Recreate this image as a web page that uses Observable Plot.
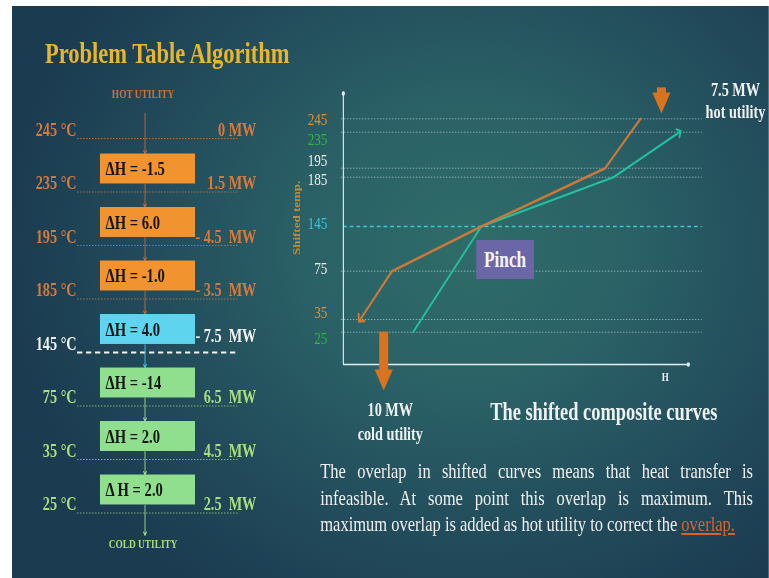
<!DOCTYPE html>
<html><head><meta charset="utf-8">
<script src="https://cdn.jsdelivr.net/npm/d3@7"></script>
<script src="https://cdn.jsdelivr.net/npm/@observablehq/plot@0.6"></script>
<style>
html,body{margin:0;padding:0;background:#fff;}
#page{position:relative;width:769px;height:578px;overflow:hidden;background:#fff;}
#slide{position:absolute;left:12px;top:6px;width:757px;height:572px;overflow:hidden;}
#stage{position:absolute;left:0;top:0;width:1009px;height:572px;transform:scaleX(0.75);transform-origin:0 0;
 background: radial-gradient(ellipse 620px 420px at 610px 240px, #2f6c69 0%, #2a6166 35%, #224b5b 70%, #1b3b50 100%);
 font-family:"Liberation Serif","Times New Roman",serif;}
.abs{position:absolute;}
#left{left:0;top:0;width:340px;height:572px;}
#right{left:0;top:0;width:1009px;height:572px;}
#left svg,#right svg{position:absolute;left:0;top:0;max-width:none !important;height:auto;}
#title{left:44px;top:32px;font-size:30px;line-height:30px;font-weight:bold;color:#e8b52e;white-space:nowrap;}
#pinch{left:619px;top:234px;width:77px;height:39px;background:#6b67a6;color:#f4f4f4;font-weight:bold;font-size:23px;line-height:39px;text-align:center;}
#caption{left:589px;top:391px;width:400px;text-align:center;font-size:24.5px;line-height:30px;font-weight:bold;color:#eef2f2;white-space:nowrap;}
#para{left:411px;top:452px;width:577px;font-size:22px;line-height:26.7px;color:#f0f0f0;text-align:justify;text-align-last:left;}
#para .hl{color:#d9632c;text-decoration:underline;}
</style>
</head><body>
<div id="page"><div id="slide"><div id="stage">
  <div id="title" class="abs">Problem Table Algorithm</div>
  <div id="left" class="abs"></div>
  <div id="right" class="abs"></div>
  <div id="pinch" class="abs">Pinch</div>
  <div id="caption" class="abs">The shifted composite curves</div>
  <div id="para" class="abs">The overlap in shifted curves means that heat transfer is infeasible. At some point this overlap is maximum. This maximum overlap is added as hot utility to correct the <span class="hl">overlap.</span></div>
</div></div></div>
<script>
// ---------- data: problem table cascade ----------
const levelTemps = [245, 235, 195, 185, 145, 75, 35, 25];
const cascadeMW = ["0 MW", "1.5 MW", "- 4.5  MW", "- 3.5  MW", "- 7.5  MW", "6.5  MW", "4.5  MW", "2.5  MW"];
const intervalDH = ["-1.5", "6.0", "-1.0", "4.0", "-14", "2.0", "2.0"];

// ---------- data: shifted composite curves ----------
const hotH = [86.1, 75.9, 40.0, 14.1, 4.9];
const hotT = [245, 195, 145, 75, 35];
const coldH = [20.2, 40.0, 78.3, 97.4];
const coldT = [25, 145, 185, 235];
const tickTemps = [245, 235, 195, 185, 145, 75, 35, 25];
const tickColors = ["#e0902c", "#2bbb3c", "#ececec", "#ececec", "#34c6dc", "#ececec", "#e0902c", "#2bbb3c"];
const hotUtility = "7.5 MW";
const coldUtility = "10 MW";
const pinchT = 145;

// ---------- layout (not data) ----------
const tickNudge = [1, 7, -8, 2, -3, -3, -7, 6];
const ORANGE = "#d8793a", WHITE = "#f2f2f2", GREEN = "#a9de7c";
const serif = "Liberation Serif";
const nb = s => s.replace(/ /g, "\u00a0");

// ---------- left: cascade diagram ----------
const levels = levelTemps.map((t, i) => ({i, t, q: cascadeMW[i], grp: i < 4 ? "hot" : i === 4 ? "pinch" : "cold"}));
const boxes = intervalDH.map((dh, i) => ({i, dh, grp: i < 3 ? "hot" : i === 3 ? "pinch" : "cold"}));
const boxFill = {hot: "#f1932f", pinch: "#5fd4ee", cold: "#8fdf8f"};
const textFill = {hot: ORANGE, pinch: WHITE, cold: GREEN};
const segs = [{a: -0.47, b: 0.29, c: "#c4683a"}];
for (let k = 1; k < boxes.length; k++) segs.push({a: k - 1 + 0.85, b: k + 0.29, c: k <= 3 ? "#c4683a" : k === 4 ? "#3cc6e6" : "#9fdc80"});
segs.push({a: boxes.length - 1 + 0.85, b: 7.42, c: "#9fdc80"});

try {
const left = Plot.plot({
  width: 340, height: 572,
  marginLeft: 86.7, marginRight: 38.7, marginTop: 0, marginBottom: 0,
  style: {background: "transparent", overflow: "visible"},
  x: {domain: [0, 1], range: [117.3, 244], axis: null},
  y: {domain: [0, 7], range: [132, 506.5], axis: null},
  marks: [
    Plot.ruleY(levels.filter(d => d.grp !== "pinch"), {y: "i", stroke: d => d.grp === "hot" ? "#c27444" : "#8fc27a", strokeWidth: 1, strokeDasharray: "2,2"}),
    Plot.ruleY(levels.filter(d => d.grp === "pinch"), {y: "i", stroke: "#f4f4f4", strokeWidth: 2.2, strokeDasharray: "7,5"}),
    Plot.arrow(segs, {x1: () => 0.47, x2: () => 0.47, y1: "a", y2: "b", stroke: "c", strokeWidth: 1.2, headLength: 5}),
    Plot.rect(boxes, {x1: () => 0, x2: () => 1, y1: d => d.i + 0.29, y2: d => d.i + 0.85, fill: d => boxFill[d.grp]}),
    Plot.text(boxes, {x: () => 0, y: d => d.i + 0.57, text: d => (d.i === boxes.length - 1 ? "Δ H = " : "ΔH = ") + d.dh,
      dx: 7, textAnchor: "start", fill: "#141414", fontSize: 19.5, fontWeight: "bold", fontFamily: serif}),
    Plot.text(levels, {y: "i", text: d => nb(d.t + " °C"), frameAnchor: "left", textAnchor: "end", dx: -1, dy: -9,
      fill: d => textFill[d.grp], fontSize: 19, fontWeight: "bold", fontFamily: serif}),
    Plot.text(levels.filter(d => d.grp !== "pinch"), {y: "i", text: d => nb(d.q), frameAnchor: "right", textAnchor: "end", dx: 24, dy: -9,
      fill: d => textFill[d.grp], fontSize: 19, fontWeight: "bold", fontFamily: serif}),
    Plot.text(levels.filter(d => d.grp === "pinch"), {y: "i", text: d => nb(d.q), frameAnchor: "right", textAnchor: "end", dx: 24, dy: -17,
      fill: WHITE, fontSize: 19, fontWeight: "bold", fontFamily: serif}),
    Plot.text(["HOT UTILITY"], {x: () => 0.45, y: () => -0.835, fill: "#d0703a", fontSize: 12.5, fontWeight: "bold", fontFamily: serif}),
    Plot.text(["COLD UTILITY"], {x: () => 0.45, y: () => 7.57, fill: GREEN, fontSize: 12.5, fontWeight: "bold", fontFamily: serif})
  ]
});
document.getElementById("left").appendChild(left);
} catch (e) { console.error("left", e); }

// ---------- right: shifted composite curves ----------
const hot = hotH.map((h, i) => ({h, t: hotT[i]}));
const cold = coldH.map((h, i) => ({h, t: coldT[i]}));
const arrowColor = "#d9731f";
// the slide's temperature axis is not to scale: a piecewise warp of the shifted temperatures
const tempWarp = d3.scaleLinear()
  .domain([0, 25, 35, 75, 145, 185, 195, 235, 245, 263])
  .range([358, 325.7, 313, 264.7, 220, 170.7, 161.7, 125.7, 112.3, 87]);
try {
const right = Plot.plot({
  width: 1009, height: 572, margin: 0,
  style: {background: "transparent", overflow: "visible"},
  x: {domain: [0, 100], range: [441.3, 901.3], axis: null},
  y: {transform: tempWarp, domain: [358, 87], range: [358, 87], axis: null},
  marks: [
    Plot.ruleY(tickTemps.filter(t => t !== pinchT), {y: d => d, x1: () => -0.6, x2: () => 104, stroke: "#dfe9e9", strokeOpacity: 0.6, strokeWidth: 1, strokeDasharray: "2,2"}),
    Plot.ruleY([pinchT], {y: d => d, x1: () => 0, x2: () => 104, stroke: "#3cc8d6", strokeWidth: 1.6, strokeDasharray: "5,4"}),
    Plot.ruleX([0], {x: d => d, y1: () => 0, y2: () => 263, stroke: "#e4eeee", strokeWidth: 1.5}),
    Plot.ruleY([0], {y: d => d, x1: () => 0, x2: () => 100, stroke: "#e4eeee", strokeWidth: 1.5}),
    Plot.dot([{h: 0, t: 263}, {h: 100, t: 0}], {x: "h", y: "t", r: 2.2, fill: "#e4eeee"}),
    Plot.line(cold, {x: "h", y: "t", stroke: "#22c1a0", strokeWidth: 2.2, markerEnd: "arrow"}),
    Plot.line(hot, {x: "h", y: "t", stroke: "#c9793a", strokeWidth: 2.6, markerEnd: "arrow"}),
    ...tickTemps.map((t, i) => Plot.text([t], {x: () => 0, y: d => d, text: d => String(d), dx: -21.3, dy: tickNudge[i],
      textAnchor: "end", fill: tickColors[i], fontSize: 17.5, fontFamily: serif})),
    Plot.text(["Shifted temp."], {x: () => -13.6, y: () => 152, rotate: -90, fill: "#c98a2a", fontSize: 13, fontWeight: "bold", fontFamily: serif}),
    Plot.text(["H"], {x: () => 93.3, y: () => 0, dy: 13, fill: "#eef2f2", fontSize: 12, fontWeight: "bold", fontFamily: serif}),
    Plot.ruleX([11.7], {x: d => d, y1: () => 25, y2: () => -8, stroke: arrowColor, strokeWidth: 12}),
    Plot.dot([11.7], {x: d => d, y: () => -9.3, symbol: "triangle", rotate: 180, r: 9, fill: arrowColor}),
    Plot.text([coldUtility + "\ncold utility"], {x: () => 13.6, y: () => -20.1, dy: 8, lineAnchor: "top", lineHeight: 1.27,
      fill: "#eef2f2", fontSize: 19, fontWeight: "bold", fontFamily: serif}),
    Plot.ruleX([92.2], {x: d => d, y1: () => 267, y2: () => 260, stroke: arrowColor, strokeWidth: 12}),
    Plot.dot([92.2], {x: d => d, y: () => 258.7, symbol: "triangle", rotate: 180, r: 9, fill: arrowColor}),
    Plot.text([hotUtility + "\nhot utility"], {x: () => 92.2, y: () => 258.7, dx: 98.7, lineHeight: 1.16,
      fill: "#eef2f2", fontSize: 19, fontWeight: "bold", fontFamily: serif})
  ]
});
document.getElementById("right").appendChild(right);
} catch (e) { console.error("right", e); }
</script>
</body></html>
